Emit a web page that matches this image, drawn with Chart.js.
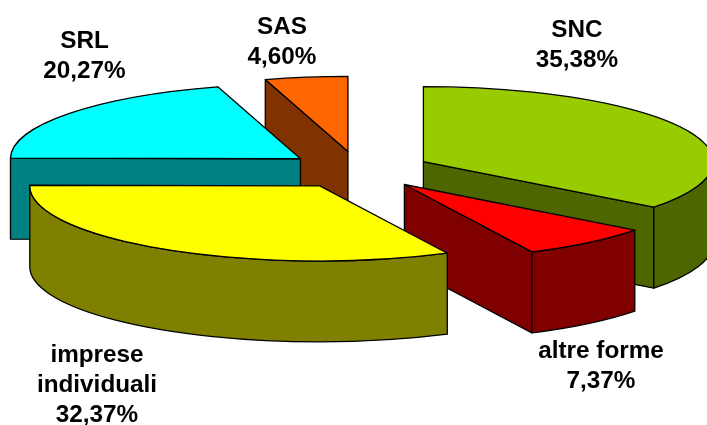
<!DOCTYPE html>
<html>
<head>
<meta charset="utf-8">
<style>html,body{margin:0;padding:0;background:#fff;overflow:hidden}canvas{display:block}</style>
<script src="https://cdn.jsdelivr.net/npm/chart.js@4"></script>
</head>
<body>
<canvas id="c" width="707" height="425"></canvas>
<script>
const categories = ["SNC", "altre forme", "imprese individuali", "SRL", "SAS"];
const shares = [35.38, 7.37, 32.37, 20.27, 4.60];
const shareLabels = ["35,38%", "7,37%", "32,37%", "20,27%", "4,60%"];
const labelLines = [["SNC"], ["altre forme"], ["imprese", "individuali"], ["SRL"], ["SAS"]];
const topColors = ["#99CC00", "#FF0000", "#FFFF00", "#00FFFF", "#FF6600"];
const wallColors = ["#4D6600", "#800000", "#808000", "#008080", "#803300"];

// Layout of the tilted pie on the page
const view = { cx: 358.4, cy: 170, rx: 290, ry: 75, depth: 81, explode: 72.5, line: 1.3 };
const paintOrder = [4, 3, 0, 1, 2];
const labelSpots = [[577, 37], [601, 358], [97, 362], [84.5, 48], [282, 34]];
const labelFont = 'bold 24.3px "Liberation Sans", Arial, sans-serif';
const lineGap = 30;

const pie3d = {
  id: 'pie3d',
  beforeDatasetsDraw(chart) {
    const ctx = chart.ctx;
    const arcs = chart.getDatasetMeta(0).data;
    const R = arcs[0].outerRadius;
    const sx = view.rx / R, sy = view.ry / R;
    for (const i of paintOrder) {
      const arc = arcs[i];
      const a0 = arc.startAngle, a1 = arc.endAngle, mid = (a0 + a1) / 2;
      const x = view.cx + Math.cos(mid) * view.explode;
      const y = view.cy + Math.sin(mid) * view.explode * view.ry / view.rx;
      const d = view.depth;
      ctx.save();
      ctx.lineWidth = view.line;
      ctx.strokeStyle = '#000';
      ctx.lineJoin = 'round';
      ctx.fillStyle = wallColors[i];
      // cut faces that face the viewer
      for (const [a, facing] of [[a0, Math.cos(a0) < -1e-6], [a1, Math.cos(a1) > 1e-6]]) {
        if (!facing) continue;
        const px = x + Math.cos(a) * view.rx, py = y + Math.sin(a) * view.ry;
        ctx.beginPath();
        ctx.moveTo(x, y);
        ctx.lineTo(px, py);
        ctx.lineTo(px, py + d);
        ctx.lineTo(x, y + d);
        ctx.closePath();
        ctx.fill();
        ctx.stroke();
      }
      // outer rim: only the part facing the viewer
      const tau = Math.PI * 2;
      for (const k of [-1, 0, 1]) {
        const s = Math.max(a0, k * tau), e = Math.min(a1, k * tau + Math.PI);
        if (e > s) {
          ctx.beginPath();
          ctx.ellipse(x, y, view.rx, view.ry, 0, s, e);
          ctx.lineTo(x + Math.cos(e) * view.rx, y + Math.sin(e) * view.ry + d);
          ctx.ellipse(x, y + d, view.rx, view.ry, 0, e, s, true);
          ctx.closePath();
          ctx.fill();
          ctx.stroke();
        }
      }
      // top face, drawn by the library's arc element
      ctx.save();
      ctx.translate(x, y);
      ctx.scale(sx, sy);
      ctx.translate(-arc.x, -arc.y);
      arc.draw(ctx);
      ctx.restore();
      ctx.beginPath();
      ctx.moveTo(x, y);
      ctx.ellipse(x, y, view.rx, view.ry, 0, a0, a1);
      ctx.closePath();
      ctx.stroke();
      ctx.restore();
    }
    return false;
  },
  afterDraw(chart) {
    const ctx = chart.ctx;
    ctx.save();
    ctx.font = labelFont;
    ctx.fillStyle = '#000';
    ctx.textAlign = 'center';
    ctx.textBaseline = 'alphabetic';
    chart.data.labels.forEach((_, i) => {
      const lines = labelLines[i].concat(shareLabels[i]);
      lines.forEach((t, j) => ctx.fillText(t, labelSpots[i][0], labelSpots[i][1] + j * lineGap));
    });
    ctx.restore();
  }
};

new Chart(document.getElementById('c'), {
  type: 'pie',
  data: {
    labels: categories,
    datasets: [{
      data: shares,
      backgroundColor: topColors,
      borderWidth: 0
    }]
  },
  options: {
    responsive: false,
    animation: false,
    layout: { padding: 0 },
    plugins: { legend: { display: false }, tooltip: { enabled: false }, title: { display: false } }
  },
  plugins: [pie3d]
});
</script>
</body>
</html>
